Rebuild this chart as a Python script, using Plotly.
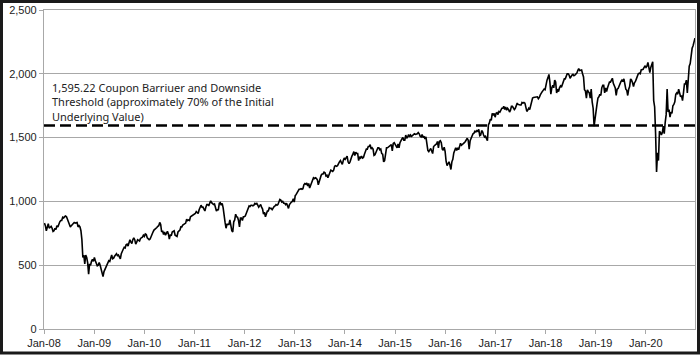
import pandas as pd
import plotly.graph_objects as go

# Weekly (Friday) closing levels, one list per year
y2008 = [830, 810, 770, 790, 825, 790, 800, 805, 790, 765, 770, 790, 780, 810, 800, 830, 840, 850, 850, 875,
         870, 880, 885, 880, 860, 835, 815, 800, 810, 820, 825, 835, 830, 830, 835, 800, 810, 800, 770, 700,
         560, 580, 510, 580, 560, 520, 430, 510, 500, 530, 545, 530]
y2009 = [560, 535, 520, 495, 500, 520, 500, 460, 440, 410, 450, 465, 490, 505, 520, 535, 530, 555, 580, 550,
         555, 570, 585, 590, 575, 580, 565, 550, 590, 615, 625, 640, 635, 660, 665, 650, 680, 700, 680, 670,
         700, 715, 700, 665, 680, 700, 695, 690, 710, 715, 720, 735]
y2010 = [726, 745, 740, 715, 705, 700, 705, 730, 735, 760, 775, 780, 785, 795, 805, 810, 835, 820, 760, 770,
         740, 760, 735, 750, 765, 745, 705, 740, 730, 760, 765, 770, 735, 730, 725, 760, 765, 775, 800, 800,
         815, 820, 825, 830, 860, 850, 855, 850, 880, 885, 895, 900, 905]
y2011 = [905, 920, 910, 905, 935, 950, 970, 955, 955, 940, 925, 955, 975, 975, 965, 985, 1005, 990, 985, 975,
         980, 950, 925, 935, 935, 985, 990, 970, 985, 950, 860, 835, 790, 820, 820, 820, 855, 790, 770, 760,
         840, 855, 900, 880, 875, 850, 800, 870, 870, 850, 880, 880]
y2012 = [885, 905, 925, 935, 965, 960, 970, 970, 965, 970, 985, 980, 985, 970, 955, 965, 975, 955, 940, 900,
         915, 880, 910, 925, 925, 950, 945, 945, 935, 955, 960, 965, 975, 970, 975, 995, 1015, 1010, 995, 1000,
         985, 985, 975, 985, 965, 945, 975, 990, 995, 1000, 1020, 995]
y2013 = [1045, 1055, 1070, 1085, 1095, 1095, 1100, 1095, 1100, 1130, 1140, 1135, 1145, 1120, 1140, 1105, 1130,
         1155, 1170, 1185, 1180, 1185, 1180, 1170, 1130, 1160, 1170, 1205, 1215, 1215, 1230, 1225, 1200, 1205,
         1185, 1210, 1235, 1245, 1240, 1235, 1245, 1275, 1280, 1275, 1280, 1300, 1310, 1320, 1305, 1290, 1320, 1340]
y2014 = [1330, 1350, 1355, 1310, 1295, 1310, 1345, 1355, 1370, 1390, 1360, 1385, 1375, 1375, 1320, 1350, 1340,
         1355, 1340, 1345, 1370, 1385, 1410, 1410, 1430, 1430, 1445, 1410, 1420, 1410, 1360, 1365, 1385, 1405,
         1420, 1420, 1405, 1410, 1375, 1370, 1310, 1320, 1380, 1420, 1420, 1425, 1435, 1440, 1445, 1395, 1455, 1460]
y2015 = [1445, 1430, 1420, 1450, 1420, 1460, 1480, 1490, 1500, 1480, 1480, 1520, 1495, 1505, 1525, 1505, 1520,
         1510, 1515, 1525, 1530, 1525, 1525, 1530, 1540, 1530, 1510, 1505, 1525, 1500, 1510, 1490, 1505, 1430,
         1400, 1390, 1410, 1415, 1395, 1375, 1430, 1440, 1445, 1450, 1470, 1420, 1470, 1475, 1460, 1410, 1400, 1425]
y2016 = [1390, 1315, 1280, 1295, 1310, 1285, 1250, 1310, 1330, 1380, 1395, 1420, 1400, 1420, 1405, 1435, 1455,
         1440, 1445, 1450, 1460, 1470, 1490, 1495, 1480, 1410, 1475, 1500, 1525, 1530, 1535, 1550, 1545, 1555,
         1550, 1565, 1515, 1520, 1555, 1545, 1520, 1505, 1510, 1495, 1475, 1600, 1615, 1645, 1635, 1690, 1675,
         1690, 1660]
y2017 = [1690, 1695, 1680, 1705, 1700, 1715, 1730, 1730, 1745, 1720, 1740, 1715, 1730, 1720, 1700, 1715, 1745,
         1745, 1735, 1720, 1730, 1745, 1770, 1760, 1755, 1755, 1755, 1775, 1770, 1775, 1770, 1720, 1705, 1715,
         1730, 1720, 1755, 1790, 1810, 1815, 1815, 1820, 1815, 1820, 1805, 1815, 1835, 1855, 1860, 1870, 1880, 1875]
y2018 = [1920, 1950, 1970, 1995, 1935, 1840, 1890, 1910, 1890, 1950, 1935, 1850, 1880, 1860, 1890, 1905, 1895,
         1915, 1945, 1960, 1960, 1980, 2000, 2000, 1990, 1965, 1985, 1990, 1995, 1985, 1990, 1995, 2005, 2025,
         2040, 2025, 2030, 2030, 2000, 1975, 1875, 1865, 1810, 1875, 1860, 1850, 1810, 1880, 1780, 1730, 1590, 1660]
y2019 = [1700, 1760, 1810, 1820, 1840, 1830, 1890, 1910, 1910, 1850, 1890, 1860, 1890, 1925, 1935, 1935, 1960,
         1965, 1925, 1910, 1890, 1830, 1880, 1885, 1910, 1925, 1940, 1950, 1940, 1960, 1910, 1880, 1870, 1830,
         1880, 1900, 1960, 1950, 1930, 1900, 1930, 1940, 1960, 1990, 2000, 2005, 2000, 2030, 2030, 2035, 2050, 2060]
y2020 = [2050, 2060, 2090, 2060, 2010, 2050, 2080, 2095, 1790, 1740, 1530, 1230, 1380, 1320, 1550, 1540, 1520,
         1540, 1590, 1530, 1620, 1680, 1880, 1700, 1720, 1660, 1700, 1690, 1750, 1760, 1780, 1840, 1850, 1840,
         1880, 1850, 1820, 1830, 1790, 1850, 1920, 1920, 1950, 1850, 1970, 2060, 2080, 2160, 2200, 2220, 2260, 2280]

years = {2008: y2008, 2009: y2009, 2010: y2010, 2011: y2011, 2012: y2012, 2013: y2013, 2014: y2014,
         2015: y2015, 2016: y2016, 2017: y2017, 2018: y2018, 2019: y2019, 2020: y2020}

barrier_level = 1595.22
barrier_text = "1,595.22 Coupon Barriuer and Downside<br>Threshold (approximately 70% of the Initial<br>Underlying Value)"
y_ticks = [0, 500, 1000, 1500, 2000, 2500]

dates, values = [], []
for yr, vals in years.items():
    d = pd.date_range(f"{yr}-01-01", periods=len(vals) + 7, freq="D")
    first_fri = [x for x in d if x.weekday() == 4][0]
    dates.extend(pd.date_range(first_fri, periods=len(vals), freq="7D"))
    values.extend(vals)

grid_col = "#a8a8a8"
fig = go.Figure()
fig.add_trace(go.Scatter(x=dates, y=values, mode="lines",
                         line=dict(color="#000000", width=1.6), hoverinfo="skip", showlegend=False))

fig.add_shape(type="line", xref="paper", x0=0, x1=1, yref="y", y0=barrier_level, y1=barrier_level,
              line=dict(color="#000000", width=2.4, dash="11px,5px"), layer="above")

fig.add_annotation(text=barrier_text, xref="paper", yref="paper", x=0.009, y=0.787,
                   xanchor="left", yanchor="top", align="left", showarrow=False,
                   font=dict(family="Noto Sans", size=11, color="#222222"))

# outer frame
W, H = 700, 355
L, R, T, B = 44, 5, 10, 26
pw, ph = W - L - R, H - T - B
def px(x):
    return (x - L) / pw
def py(y):
    return (H - B - y) / ph
fig.add_shape(type="rect", xref="paper", yref="paper", x0=px(1.5), x1=px(698.5), y0=py(353), y1=py(1.5),
              line=dict(color="#1a1a1a", width=3), layer="above")

fig.update_layout(
    width=W, height=H, margin=dict(l=L, r=R, t=T, b=B),
    paper_bgcolor="white", plot_bgcolor="white",
    font=dict(family="Liberation Sans, Arial", size=11, color="#222222"),
    showlegend=False,
)
fig.update_xaxes(type="date", range=["2008-01-01", "2020-12-25"], dtick="M12", tick0="2008-01-01",
                 tickformat="%b-%y", showgrid=False, showline=True, linecolor=grid_col, linewidth=1.2,
                 mirror=True, ticks="outside", ticklen=4, tickcolor=grid_col, tickfont=dict(size=11))
fig.update_yaxes(range=[0, 2500], tickvals=y_ticks, tickformat=",", showgrid=True, gridcolor=grid_col,
                 gridwidth=1.2, zeroline=False, showline=True, linecolor=grid_col, linewidth=1.2, mirror=True,
                 ticks="outside", ticklen=4, tickcolor=grid_col, tickfont=dict(size=11))

fig.write_html("out.html", config={"displayModeBar": False},
               post_script="document.body.style.margin='0';document.body.style.overflow='hidden';")
